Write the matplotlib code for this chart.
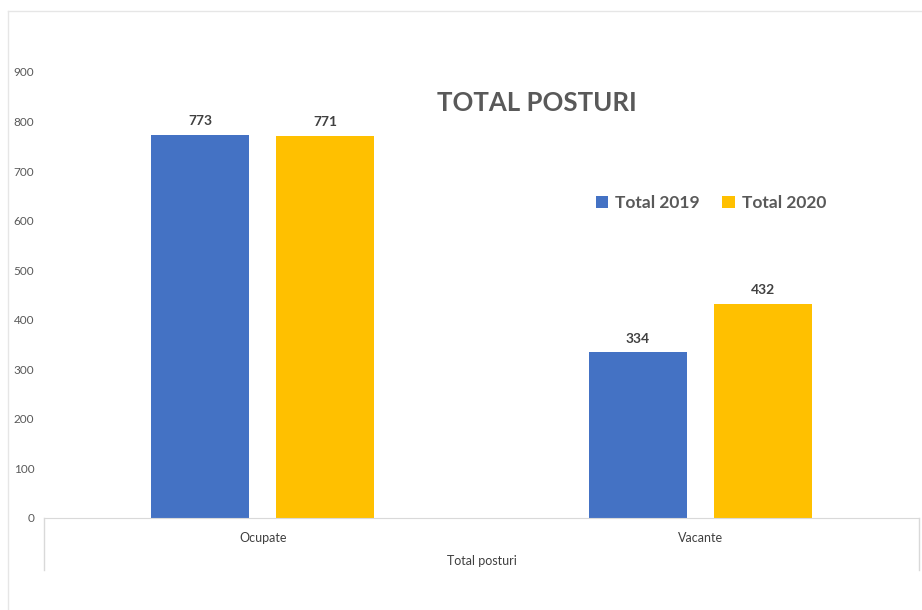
import matplotlib
matplotlib.use("Agg")
import matplotlib.pyplot as plt
import numpy as np
from matplotlib.lines import Line2D

categories = ["Ocupate", "Vacante"]
series_names = ["Total 2019", "Total 2020"]
values_2019 = [773, 334]
values_2020 = [771, 432]
yticks = [0, 100, 200, 300, 400, 500, 600, 700, 800, 900]
group_label = "Total posturi"
title = "TOTAL POSTURI"

colors = ["#4472C4", "#FFC000"]
plt.rcParams['font.family'] = ['Lato', 'DejaVu Sans']

W, H = 922, 610
fig = plt.figure(figsize=(W / 100, H / 100), dpi=100)
ax = fig.add_axes([44 / W, 1 - 518 / H, (919 - 44) / W, (518 - 72) / H])

x = np.arange(len(categories))
bw = 0.224
off = 0.143
b1 = ax.bar(x - off, values_2019, bw, color=colors[0], label=series_names[0])
b2 = ax.bar(x + off, values_2020, bw, color=colors[1], label=series_names[1])

for bars, vals in ((b1, values_2019), (b2, values_2020)):
    for rect, v in zip(bars, vals):
        ax.annotate(str(v), (rect.get_x() + rect.get_width() / 2, v),
                    xytext=(0, 5.5), textcoords="offset points",
                    ha="center", va="bottom", fontsize=10, fontweight="bold",
                    color="#404040")

ax.set_xlim(-0.5, 1.5)
ax.set_ylim(0, 900)
ax.set_yticks(yticks)
ax.set_yticklabels([str(t) for t in yticks], fontsize=8.5, color="#595959")
ax.tick_params(axis="y", length=0, pad=7)
ax.set_xticks(x)
ax.set_xticklabels(categories, fontsize=9, color="#404040")
ax.tick_params(axis="x", length=0, pad=10)
for s in ["top", "right", "left"]:
    ax.spines[s].set_visible(False)
ax.spines["bottom"].set_color("#D9D9D9")

# multi-level axis separators
for xp in (44, 919):
    fig.add_artist(Line2D([xp / W, xp / W], [1 - 518 / H, 1 - 570 / H],
                          color="#D9D9D9", lw=1))
fig.text((44 + 919) / 2 / W, 1 - 561 / H, group_label, ha="center", va="center",
         fontsize=9, color="#404040")

# title
fig.text(537 / W, 1 - 103 / H, title, ha="center", va="center",
         fontsize=18.5, fontweight="bold", color="#595959")

# legend
ax.legend(loc="center", bbox_to_anchor=(711 / W, 1 - 203 / H),
          bbox_transform=fig.transFigure, ncol=2, frameon=False,
          handlelength=0.7, handleheight=0.7, handletextpad=0.4,
          columnspacing=1.3, prop={"weight": "bold", "size": 12.5})
for t in ax.get_legend().get_texts():
    t.set_color("#595959")

# chart border
fig.add_artist(Line2D([8 / W, 8 / W], [0, 1 - 11 / H], color="#E6E6E6", lw=1))
fig.add_artist(Line2D([8 / W, 1], [1 - 11 / H, 1 - 11 / H], color="#E6E6E6", lw=1))

fig.savefig("out.png", dpi=100)
